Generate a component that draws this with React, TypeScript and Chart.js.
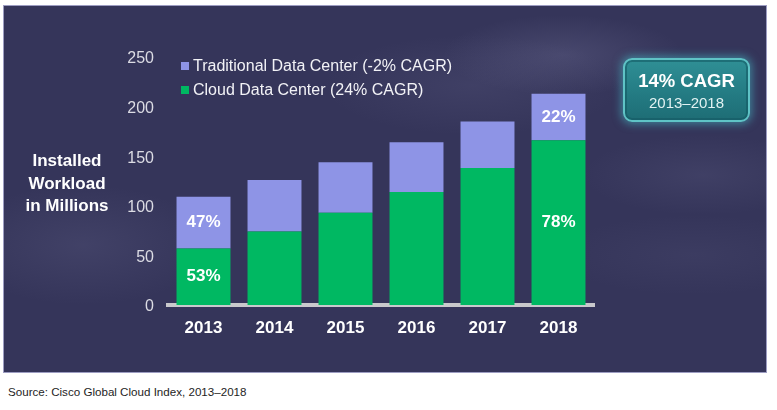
import React, { useEffect, useRef } from "react";
import { Chart, registerables } from "chart.js";

Chart.register(...registerables);

const years = ["2013", "2014", "2015", "2016", "2017", "2018"];
const cloudValues = [57, 74, 93, 114, 138, 166];
const traditionalValues = [52, 52, 51, 50, 47, 47];
const cloudPctLabels = ["53%", "", "", "", "", "78%"];
const traditionalPctLabels = ["47%", "", "", "", "", "22%"];
const legendLabels = ["Traditional Data Center (-2% CAGR)", "Cloud Data Center (24% CAGR)"];
const yTicks = [0, 50, 100, 150, 200, 250];

const PURPLE = "#8e94e6";
const GREEN = "#00b862";
const FONT = "'Liberation Sans', Arial, Helvetica, sans-serif";

const pctLabelPlugin = {
  id: "pctLabels",
  afterDatasetsDraw(chart: any) {
    const ctx = chart.ctx;
    ctx.save();
    ctx.fillStyle = "#ffffff";
    ctx.font = `bold 17px ${FONT}`;
    ctx.textAlign = "center";
    ctx.textBaseline = "middle";
    chart.data.datasets.forEach((ds: any, di: number) => {
      const meta = chart.getDatasetMeta(di);
      const labels: string[] = ds.pctLabels || [];
      meta.data.forEach((el: any, i: number) => {
        const t = labels[i];
        if (!t) return;
        const cy = (el.y + el.base) / 2;
        ctx.fillText(t, el.x, cy);
      });
    });
    ctx.restore();
  },
};

const legendPlugin = {
  id: "customLegend",
  afterDraw(chart: any) {
    const ctx = chart.ctx;
    const area = chart.chartArea;
    const items = [
      { text: legendLabels[0], color: PURPLE },
      { text: legendLabels[1], color: GREEN },
    ];
    ctx.save();
    ctx.font = `16px ${FONT}`;
    ctx.textBaseline = "middle";
    ctx.textAlign = "left";
    items.forEach((it, i) => {
      const y = area.top + 9 + i * 24;
      ctx.fillStyle = it.color;
      ctx.fillRect(area.left + 13, y - 4, 8, 8);
      ctx.fillStyle = "#f2f2f6";
      ctx.fillText(it.text, area.left + 25, y + 1);
    });
    ctx.restore();
  },
};

function BarChart() {
  const ref = useRef<HTMLCanvasElement | null>(null);
  useEffect(() => {
    if (!ref.current) return;
    const chart = new Chart(ref.current, {
      type: "bar",
      data: {
        labels: years,
        datasets: [
          {
            label: legendLabels[1],
            data: cloudValues,
            backgroundColor: GREEN,
            borderWidth: 0,
            pctLabels: cloudPctLabels,
          } as any,
          {
            label: legendLabels[0],
            data: traditionalValues,
            backgroundColor: PURPLE,
            borderWidth: 0,
            pctLabels: traditionalPctLabels,
          } as any,
        ],
      },
      options: {
        animation: false,
        responsive: false,
        maintainAspectRatio: false,
        layout: { padding: { top: 52, right: 173, bottom: 0, left: 0 } },
        plugins: {
          legend: { display: false },
          tooltip: { enabled: false },
        },
        datasets: {
          bar: { barPercentage: 0.76, categoryPercentage: 1 },
        },
        scales: {
          x: {
            stacked: true,
            z: 1,
            grid: { display: false, drawTicks: false },
            border: { display: true, color: "#c9c9cc", width: 4 },
            ticks: {
              color: "#ffffff",
              font: { family: FONT, size: 17, weight: "bold" },
              padding: 13,
            },
            afterFit(scale: any) {
              scale.height = 68;
            },
          },
          y: {
            stacked: true,
            min: 0,
            max: 250,
            afterBuildTicks(scale: any) {
              scale.ticks = yTicks.map((v) => ({ value: v }));
            },
            grid: { display: false, drawTicks: false },
            border: { display: false },
            ticks: {
              color: "#dcdce4",
              font: { family: FONT, size: 16 },
              padding: 14,
              labelOffset: 2,
            },
            afterFit(scale: any) {
              scale.width = 165;
            },
          },
        },
      } as any,
      plugins: [pctLabelPlugin, legendPlugin],
    });
    return () => chart.destroy();
  }, []);
  return <canvas ref={ref} width={764} height={368} style={{ position: "absolute", left: 0, top: 0, width: 764, height: 368 }} />;
}

export default function App() {
  return (
    <div
      style={{
        position: "absolute",
        left: 0,
        top: 0,
        width: 777,
        height: 410,
        background: "#ffffff",
        fontFamily: FONT,
        overflow: "hidden",
      }}
    >
      <div
        style={{
          position: "absolute",
          left: 3,
          top: 5,
          width: 764,
          height: 368,
          background:
            "radial-gradient(ellipse 120px 40px at 560px 50px, rgba(140,140,180,0.22), rgba(0,0,0,0)), " +
            "radial-gradient(ellipse 150px 50px at 470px 80px, rgba(140,140,180,0.12), rgba(0,0,0,0)), " +
            "radial-gradient(ellipse 130px 60px at 80px 240px, rgba(140,140,180,0.14), rgba(0,0,0,0)), " +
            "radial-gradient(ellipse 120px 40px at 700px 170px, rgba(140,140,180,0.12), rgba(0,0,0,0)), " +
            "radial-gradient(ellipse 140px 40px at 690px 250px, rgba(140,140,180,0.08), rgba(0,0,0,0)), " +
            "#35355a",
          boxShadow: "inset 0 0 0 1px #9d9dc2",
        }}
      >
        <BarChart />
        <div
          style={{
            position: "absolute",
            left: 0,
            top: 145,
            width: 128,
            textAlign: "center",
            color: "#ffffff",
            fontWeight: "bold",
            fontSize: 17,
            lineHeight: "22.5px",
          }}
        >
          Installed
          <br />
          Workload
          <br />
          in Millions
        </div>
        <div
          style={{
            position: "absolute",
            left: 620,
            top: 53,
            width: 127,
            height: 64,
            boxSizing: "border-box",
            borderRadius: 9,
            border: "2px solid #5fc3c6",
            background: "linear-gradient(180deg, #2f8f95 0%, #237a82 60%, #1e6d75 100%)",
            boxShadow: "0 0 8px 2px rgba(70,190,200,0.55), inset 0 0 0 2px rgba(20,90,100,0.6)",
            color: "#ffffff",
            textAlign: "center",
          }}
        >
          <div style={{ fontWeight: "bold", fontSize: 18.5, lineHeight: "22px", marginTop: 10 }}>14% CAGR</div>
          <div style={{ fontSize: 15, lineHeight: "20px", color: "#e2f2f2", marginTop: 1 }}>2013–2018</div>
        </div>
      </div>
      <div
        style={{
          position: "absolute",
          left: 8,
          top: 384,
          fontSize: 11.6,
          lineHeight: "16px",
          color: "#1e1e1e",
        }}
      >
        Source: Cisco Global Cloud Index, 2013–2018
      </div>
    </div>
  );
}
